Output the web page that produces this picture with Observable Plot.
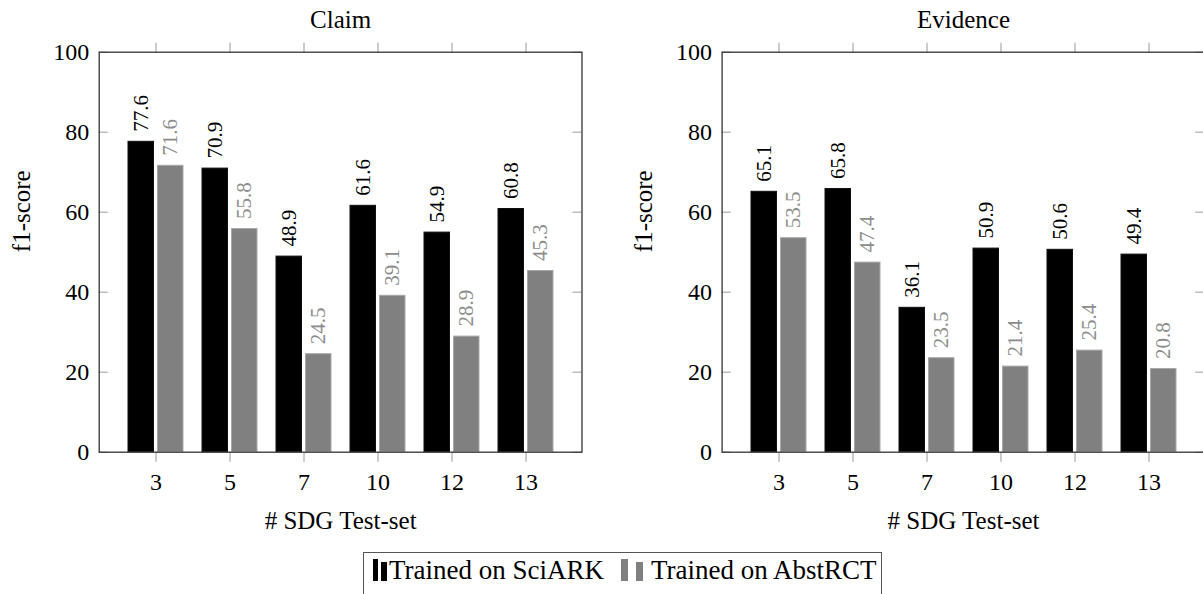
<!DOCTYPE html>
<html>
<head>
<meta charset="utf-8">
<script src="https://cdn.jsdelivr.net/npm/d3@7"></script>
<script src="https://cdn.jsdelivr.net/npm/@observablehq/plot@0.6"></script>
<style>
  html, body { margin: 0; padding: 0; background: #fff; overflow: hidden; }
  #root { position: relative; width: 1203px; height: 594px; overflow: hidden; font-family: "Liberation Serif", "Times New Roman", serif; }
  .panel { position: absolute; top: 0; width: 640px; height: 594px; }
  .panel svg { overflow: visible; max-width: none !important; }
  #legend { position: absolute; left: 362.7px; top: 552.3px; width: 519px; height: 60px; border: 1.3px solid #555; box-sizing: border-box; background: #fff; }
  .sw { position: absolute; }
  .lt { position: absolute; font-size: 27px; line-height: 1; white-space: nowrap; color: #000; }
</style>
</head>
<body>
<div id="root">
  <div id="p1" class="panel" style="left:0px"></div>
  <div id="p2" class="panel" style="left:601px"></div>
  <div id="legend"></div>
</div>
<script>
// ---- data ----
const sdg = ["3", "5", "7", "10", "12", "13"];
const claimSciARK = [77.6, 70.9, 48.9, 61.6, 54.9, 60.8];
const claimAbstRCT = [71.6, 55.8, 24.5, 39.1, 28.9, 45.3];
const evidenceSciARK = [65.1, 65.8, 36.1, 50.9, 50.6, 49.4];
const evidenceAbstRCT = [53.5, 47.4, 23.5, 21.4, 25.4, 20.8];
const yTicks = [0, 20, 40, 60, 80, 100];
const seriesNames = ["Trained on SciARK", "Trained on AbstRCT"];
const seriesColors = ["#000000", "#808080"];
const labelColors = ["#000000", "#8c8c8c"];

function panel(title, sci, abst, svgWidth, ml, mr) {
  const rows = sdg.map((s, i) => ({sdg: s, sci: sci[i], abst: abst[i]}));
  const H = 594, mt = 51.7, mb = H - 451.7;
  const frameW = svgWidth - ml - mr;
  const font = 24;
  return Plot.plot({
    width: svgWidth, height: H,
    marginLeft: ml, marginRight: mr, marginTop: mt, marginBottom: mb,
    style: {fontFamily: "'Liberation Serif', 'Times New Roman', serif", fontSize: font + "px", color: "#000", background: "transparent", overflow: "visible", maxWidth: "none"},
    x: {type: "band", domain: sdg, paddingInner: 0.26, paddingOuter: 0.375, axis: null},
    y: {domain: [0, 100], axis: null},
    marks: [
      Plot.barY(rows, {x: "sdg", y: "sci", fill: seriesColors[0], stroke: "#111", strokeWidth: 1, insetRight: 29.5}),
      Plot.barY(rows, {x: "sdg", y: "abst", fill: seriesColors[1], stroke: "#a8a8a8", strokeWidth: 1, insetLeft: 29.5}),
      Plot.text(rows, {x: "sdg", y: "sci", text: d => d.sci.toFixed(1), rotate: -90, textAnchor: "start", dx: -14.7, dy: -10, fill: labelColors[0], fontSize: 21}),
      Plot.text(rows, {x: "sdg", y: "abst", text: d => d.abst.toFixed(1), rotate: -90, textAnchor: "start", dx: 14.7, dy: -10, fill: labelColors[1], fontSize: 21}),
      Plot.tickY(yTicks, {y: d => d, insetRight: frameW - 9, stroke: "#aaa", strokeWidth: 1.2}),
      Plot.tickY(yTicks, {y: d => d, insetLeft: frameW - 9, stroke: "#aaa", strokeWidth: 1.2}),
      Plot.axisY({anchor: "left", ticks: yTicks, tickSize: 0, tickPadding: 10, label: null, fontSize: font}),
      Plot.axisX({anchor: "bottom", tickSize: 10, tickPadding: 11, label: null, fontSize: font, stroke: "#aaa", strokeWidth: 1.2}),
      Plot.axisX({anchor: "top", tickSize: 10, tickFormat: () => "", label: null, stroke: "#aaa", strokeWidth: 1.2}),
      Plot.frame({stroke: "#333", strokeWidth: 1.3}),
      Plot.text([title], {text: d => d, frameAnchor: "top", lineAnchor: "middle", dy: -32, fontSize: 25, fill: "#000"}),
      Plot.text(["# SDG Test-set"], {text: d => d, frameAnchor: "bottom", lineAnchor: "middle", dy: 68.3, fontSize: 25, fill: "#000"}),
      Plot.text(["f1-score"], {text: d => d, frameAnchor: "left", lineAnchor: "middle", rotate: -90, dx: -77.7, fontSize: 25, fill: "#000"})
    ]
  });
}

document.getElementById("p1").appendChild(panel("Claim", claimSciARK, claimAbstRCT, 601, 98.7, 19.5));
document.getElementById("p2").appendChild(panel("Evidence", evidenceSciARK, evidenceAbstRCT, 620, 120.6, 16.6));

// ---- legend ----
const legend = document.getElementById("legend");
const lx = 362.7, ly = 552.3;
function sw(x, y, w, h, c) {
  const d = document.createElement("div");
  d.className = "sw";
  d.style.left = (x - lx) + "px"; d.style.top = (y - ly) + "px";
  d.style.width = w + "px"; d.style.height = h + "px"; d.style.background = c;
  legend.appendChild(d);
}
function lt(x, baseline, txt) {
  const d = document.createElement("div");
  d.className = "lt";
  d.textContent = txt;
  d.style.left = (x - lx) + "px";
  d.style.top = (baseline - ly - 27 * 0.891) + "px";
  legend.appendChild(d);
}
sw(371.7, 558, 5, 22, seriesColors[0]);
sw(380, 561, 5.7, 19, seriesColors[0]);
lt(388, 580, seriesNames[0]);
sw(620, 558, 6.7, 22, seriesColors[1]);
sw(635, 561, 7.3, 19, seriesColors[1]);
lt(650, 580, seriesNames[1]);
</script>
</body>
</html>
